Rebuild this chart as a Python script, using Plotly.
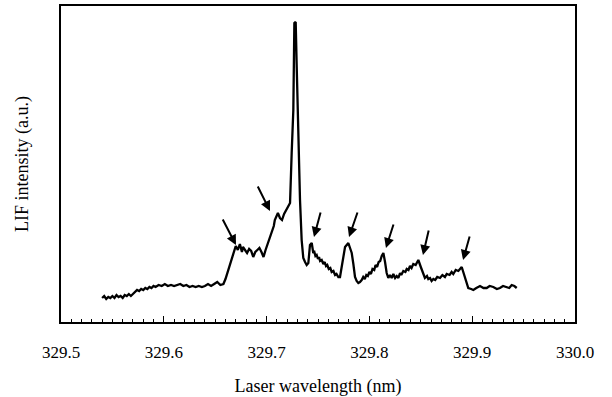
import plotly.graph_objects as go

# LIF excitation spectrum (wavelength in nm, intensity in arbitrary units)
wavelength = [
    329.540, 329.542, 329.544, 329.546, 329.548, 329.550, 329.552, 329.554, 329.556, 329.558,
    329.560, 329.562, 329.564, 329.566, 329.568, 329.570, 329.572, 329.574, 329.576, 329.578,
    329.580, 329.582, 329.584, 329.586, 329.588, 329.590, 329.592, 329.595, 329.598, 329.601,
    329.604, 329.607, 329.610, 329.613, 329.616, 329.619, 329.622, 329.625, 329.628, 329.631,
    329.634, 329.637, 329.640, 329.643, 329.646, 329.649, 329.652, 329.655, 329.658, 329.660,
    329.662, 329.664, 329.666, 329.668, 329.670, 329.672, 329.674, 329.676, 329.677, 329.679,
    329.681, 329.683, 329.685, 329.687, 329.689, 329.691, 329.693, 329.695, 329.697, 329.699,
    329.701, 329.703, 329.705, 329.707, 329.708, 329.710, 329.711, 329.713, 329.715, 329.717,
    329.718, 329.720, 329.721, 329.7228, 329.7244, 329.7260, 329.7270, 329.7283, 329.7293, 329.7309,
    329.7325, 329.7341, 329.7357, 329.7374, 329.7390, 329.7406, 329.7422, 329.7439, 329.7454, 329.7465,
    329.7475, 329.7487, 329.7500, 329.7510, 329.7520, 329.7536, 329.7552, 329.7565, 329.7578, 329.7590,
    329.7605, 329.7620, 329.7633, 329.7650, 329.7666, 329.7680, 329.7698, 329.7714, 329.7730, 329.7747,
    329.7763, 329.7795, 329.7811, 329.7828, 329.7844, 329.7860, 329.7876, 329.7892, 329.7908, 329.7925,
    329.7940, 329.7955, 329.7970, 329.7985, 329.8000, 329.8015, 329.8030, 329.8047, 329.8060, 329.8075,
    329.8090, 329.8105, 329.8120, 329.8136, 329.8152, 329.8168, 329.8184, 329.8200, 329.8217, 329.8233,
    329.8250, 329.8266, 329.8282, 329.8298, 329.8310, 329.8330, 329.8350, 329.8363, 329.8380, 329.8395,
    329.8410, 329.8427, 329.8450, 329.8476, 329.8500, 329.8525, 329.8540, 329.8560, 329.8573, 329.8590,
    329.8605, 329.8622, 329.8640, 329.8660, 329.8687, 329.8710, 329.8735, 329.8752, 329.8780, 329.8800,
    329.8816, 329.8840, 329.8865, 329.8898, 329.8930, 329.8946, 329.8962, 329.8990, 329.9011, 329.9040,
    329.9076, 329.9110, 329.9141, 329.9170, 329.9205, 329.9240, 329.9270, 329.9300, 329.9336, 329.9360,
    329.9384, 329.9410, 329.9433,
]
intensity = [
    24, 26, 23, 25, 24, 26, 24, 27, 25, 26,
    24, 27, 26, 28, 26, 28, 30, 32, 31, 33,
    32, 34, 33, 35, 34, 36, 35, 37, 36, 38,
    36, 37, 36, 37, 38, 36, 37, 35, 36, 35,
    36, 35, 36, 38, 36, 38, 40, 37, 38, 43,
    50, 56, 63, 70, 76, 72, 78, 70, 75, 72,
    69, 73, 71, 65, 70, 72, 74, 70, 65, 72,
    78, 85, 90, 96, 102, 107, 109, 104, 102, 108,
    110, 113, 115, 119, 169, 212, 299, 300, 255, 182,
    122, 82, 64, 60, 57, 59, 77, 79, 69, 70,
    66, 67, 63, 65, 61, 62, 58, 60, 56, 57,
    53, 54, 50, 51, 47, 48, 45, 45, 55, 65,
    75, 79, 75, 69, 58, 45, 41, 39, 40, 42,
    45, 43, 47, 46, 50, 48, 53, 52, 57, 55,
    60, 61, 66, 69, 60, 49, 44, 47, 44, 48,
    44, 46, 44, 49, 47, 51, 50, 53, 52, 56,
    54, 58, 57, 62, 55, 47, 44, 46, 43, 44,
    41, 43, 42, 45, 44, 47, 45, 48, 47, 50,
    48, 52, 51, 55, 45, 38, 34, 33, 32, 34,
    36, 34, 34, 36, 35, 33, 34, 36, 35, 34,
    37, 36, 34,
]

# Arrows marking band features: tip and tail positions in data units
arrow_tip_wl = [329.6702, 329.7033, 329.7461, 329.7802, 329.8161, 329.8521, 329.8911]
arrow_tip_int = [77, 111, 85, 85, 74, 67, 62]
arrow_tail_wl = [329.6566, 329.6907, 329.7529, 329.7889, 329.8239, 329.8580, 329.8979]
arrow_tail_int = [104, 137, 111, 111, 99, 93, 87]

x_range = [329.5, 330.0]
y_range = [0, 316]

font_family = "Liberation Serif"

fig = go.Figure()
fig.add_trace(go.Scatter(
    x=wavelength, y=intensity, mode="lines",
    line=dict(color="black", width=2.3), showlegend=False,
))

for tx, ty, ax, ay in zip(arrow_tip_wl, arrow_tip_int, arrow_tail_wl, arrow_tail_int):
    fig.add_annotation(
        x=tx, y=ty, ax=ax, ay=ay, xref="x", yref="y", axref="x", ayref="y",
        text="", showarrow=True, arrowhead=2, arrowsize=1.0, arrowwidth=2,
        arrowcolor="black", standoff=0,
    )

fig.update_layout(
    width=612, height=397,
    margin=dict(l=61, r=37, t=6, b=75),
    paper_bgcolor="white", plot_bgcolor="white",
    font=dict(family=font_family, color="black", size=17),
    showlegend=False,
)
fig.update_xaxes(
    range=x_range, showgrid=False, zeroline=False, automargin=False,
    showline=True, linecolor="black", linewidth=1.5, mirror=True,
    ticks="inside", ticklen=6, tickwidth=1, tickcolor="black",
    tick0=329.5, dtick=0.1, tickformat=".1f",
    minor=dict(dtick=0.01, ticks="inside", ticklen=3, tickwidth=1, tickcolor="black"),
    tickfont=dict(size=17, family=font_family, color="black"),
    ticklabelstandoff=14,
    title=dict(text="Laser wavelength (nm)", font=dict(size=18, family=font_family), standoff=25),
)
fig.update_yaxes(
    range=y_range, showgrid=False, zeroline=False, automargin=False,
    showline=True, linecolor="black", linewidth=1.5, mirror=True,
    ticks="", showticklabels=False,
    title=dict(text="LIF intensity (a.u.)", font=dict(size=18, family=font_family), standoff=26),
)

fig.write_html("out.html")
